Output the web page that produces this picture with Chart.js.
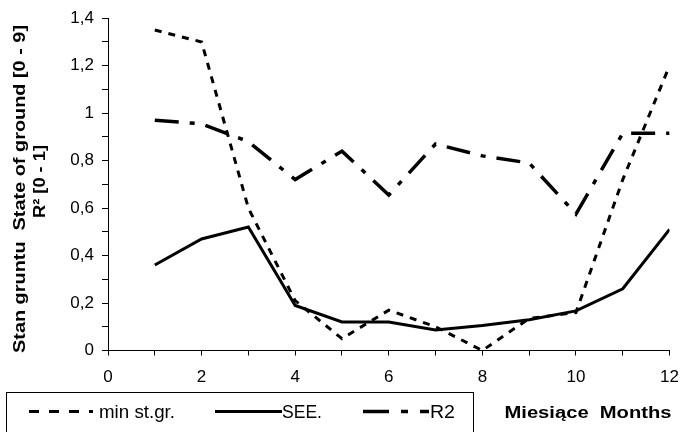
<!DOCTYPE html>
<html>
<head>
<meta charset="utf-8">
<script src="https://cdn.jsdelivr.net/npm/chart.js@4/dist/chart.umd.min.js"></script>
<style>
  html, body { margin: 0; padding: 0; background: #fff; }
  canvas { display: block; }
</style>
</head>
<body>
<canvas id="chart" width="691" height="432"></canvas>
<script>
/* =============================
   DATA
============================= */
const months = [1, 2, 3, 4, 5, 6, 7, 8, 9, 10, 11, 12];
const minStGr = [1.35, 1.30, 0.60, 0.21, 0.05, 0.17, 0.10, 0.00, 0.135, 0.16, 0.72, 1.20];
const seeVals = [0.36, 0.47, 0.52, 0.19, 0.12, 0.12, 0.086, 0.105, 0.13, 0.167, 0.26, 0.51];
const r2Vals  = [0.97, 0.955, 0.88, 0.72, 0.84, 0.655, 0.87, 0.82, 0.79, 0.575, 0.915, 0.915];

const seriesNames = ["min st.gr.", "SEE.", "R2"];
const yTitleLines = ["Stan gruntu  State of ground [0 - 9]", "R\u00B2 [0 - 1]"];
const xTitle = "Miesiące  Months";

const FONT = "'Liberation Sans', Arial, sans-serif";

function toPoints(vals) {
    return months.map((m, i) => ({ x: m, y: vals[i] }));
}

/* draw text squeezed/stretched to a given length */
function fitText(ctx, text, x, y, width, font, align) {
    ctx.save();
    ctx.font = font;
    const w = ctx.measureText(text).width;
    const s = width / w;
    ctx.translate(x, y);
    ctx.scale(s, 1);
    ctx.textAlign = align || "left";
    ctx.textBaseline = "alphabetic";
    ctx.fillText(text, 0, 0);
    ctx.restore();
}

/* =============================
   TITLES + LEGEND PLUGIN
============================= */
const decorations = {
    id: "decorations",
    afterDraw(chart) {
        const ctx = chart.ctx;
        ctx.save();
        ctx.fillStyle = "#000";

        // y title, two rotated lines
        const yLines = [
            { text: yTitleLines[0], base: 25, cy: 189, len: 328 },
            { text: yTitleLines[1], base: 45, cy: 181.5, len: 73 }
        ];
        yLines.forEach(l => {
            ctx.save();
            ctx.translate(l.base, l.cy);
            ctx.rotate(-Math.PI / 2);
            fitText(ctx, l.text, 0, 0, l.len, "bold 17px " + FONT, "center");
            ctx.restore();
        });

        // x title
        fitText(ctx, xTitle, 588, 418, 167, "bold 17px " + FONT, "center");

        // legend box
        ctx.strokeStyle = "#000";
        ctx.lineWidth = 1;
        ctx.strokeRect(6.5, 392.5, 467, 50);

        const items = [
            { ds: 0, x0: 29, x1: 93, tx: 99, tw: 76 },
            { ds: 1, x0: 215, x1: 282, tx: 282, tw: 40 },
            { ds: 2, x0: 363, x1: 429, tx: 430, tw: 25 }
        ];
        items.forEach(it => {
            const ds = chart.data.datasets[it.ds];
            ctx.save();
            ctx.strokeStyle = "#000";
            ctx.lineWidth = ds.borderWidth;
            ctx.lineCap = "butt";
            ctx.setLineDash(ds.legendDash || []);
            ctx.beginPath();
            ctx.moveTo(it.x0, 411.5);
            ctx.lineTo(it.x1, 411.5);
            ctx.stroke();
            ctx.restore();
            fitText(ctx, ds.label, it.tx, 418, it.tw, "19px " + FONT, "left");
        });
        ctx.restore();
    }
};

/* =============================
   CHART
============================= */
function commaLabel(v) {
    const r = Math.round(v * 10);
    if (r % 2 !== 0) return "";
    return String(r / 10).replace(".", ",");
}

new Chart(document.getElementById("chart"), {
    type: "line",
    data: {
        datasets: [
            {
                label: seriesNames[0],
                data: toPoints(minStGr),
                borderColor: "#000",
                borderWidth: 3,
                borderDash: [7, 7],
                legendDash: [10, 10],
                pointRadius: 0,
                tension: 0,
                fill: false
            },
            {
                label: seriesNames[1],
                data: toPoints(seeVals),
                borderColor: "#000",
                borderWidth: 3,
                borderDash: [],
                legendDash: [],
                pointRadius: 0,
                tension: 0,
                fill: false
            },
            {
                label: seriesNames[2],
                data: toPoints(r2Vals),
                borderColor: "#000",
                borderWidth: 3.5,
                borderDash: [24, 11, 5, 11],
                legendDash: [26, 12, 7, 12],
                pointRadius: 0,
                tension: 0,
                fill: false
            }
        ]
    },
    options: {
        responsive: false,
        animation: false,
        layout: { padding: { top: 14, right: 11, left: 0, bottom: 0 } },
        plugins: {
            legend: { display: false },
            tooltip: { enabled: false }
        },
        scales: {
            x: {
                type: "linear",
                min: 0,
                max: 12,
                afterFit: s => { s.height = 81.5; },
                ticks: {
                    stepSize: 1,
                    color: "#000",
                    font: { size: 17, family: FONT },
                    padding: 12,
                    maxRotation: 0,
                    autoSkip: false,
                    callback: v => (v % 2 === 0 ? String(v) : "")
                },
                grid: {
                    drawOnChartArea: false,
                    drawTicks: true,
                    tickLength: 5,
                    color: "#000"
                },
                border: { display: true, color: "#000", width: 1 }
            },
            y: {
                min: 0,
                max: 1.4,
                afterFit: s => { s.width = 108; },
                ticks: {
                    stepSize: 0.1,
                    color: "#000",
                    font: { size: 17, family: FONT },
                    padding: 8,
                    autoSkip: false,
                    callback: v => commaLabel(v)
                },
                grid: {
                    drawOnChartArea: false,
                    drawTicks: true,
                    tickLength: 6,
                    color: "#000"
                },
                border: { display: true, color: "#000", width: 1 }
            }
        }
    },
    plugins: [decorations]
});
</script>
</body>
</html>
